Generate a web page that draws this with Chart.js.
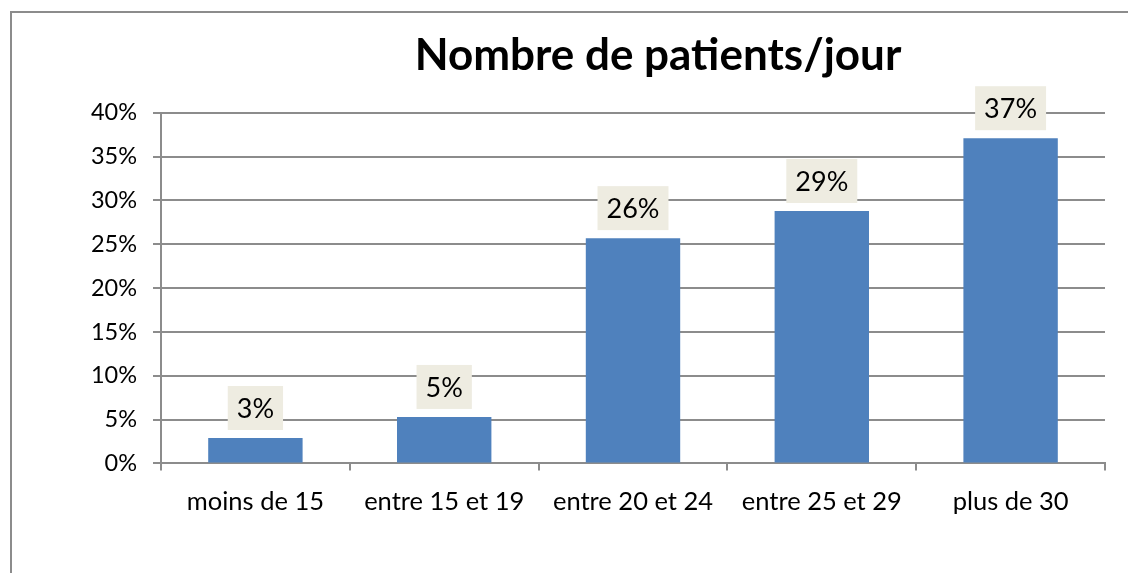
<!DOCTYPE html>
<html>
<head>
<meta charset="utf-8">
<script src="https://cdn.jsdelivr.net/npm/chart.js@4/dist/chart.umd.min.js"></script>
<style>
  body { margin: 0; background: #fff; overflow: hidden; }
  #frame {
    position: absolute; left: 10px; top: 11px;
    width: 1400px; height: 700px;
    border-left: 2px solid #8c8c8c; border-top: 2px solid #8c8c8c;
  }
  #chart { position: absolute; left: -1px; top: -1px; }
</style>
</head>
<body>
<div id="frame"><canvas id="chart" width="1294" height="561"></canvas></div>
<script>
// Chart data
const categories = ["moins de 15", "entre 15 et 19", "entre 20 et 24", "entre 25 et 29", "plus de 30"];
const patientShare = [2.9, 5.3, 25.7, 28.8, 37.1];
const yTicks = [0, 5, 10, 15, 20, 25, 30, 35, 40];

const FONT = "Lato, 'Open Sans', sans-serif";
const GRID = "#8c8c8c";

// Draws the beige value boxes above each bar
const valueBoxes = {
    id: "valueBoxes",
    afterDatasetsDraw(chart) {
        const ctx = chart.ctx;
        const meta = chart.getDatasetMeta(0);
        ctx.save();
        ctx.font = "27px " + FONT;
        ctx.textAlign = "center";
        ctx.textBaseline = "middle";
        meta.data.forEach((bar, i) => {
            const label = Math.round(patientShare[i]) + "%";
            const w = ctx.measureText(label).width + 18;
            const h = 44;
            const bottom = bar.y - 8;
            ctx.fillStyle = "#EEECE1";
            ctx.fillRect(bar.x - w / 2, bottom - h, w, h);
            ctx.fillStyle = "#000";
            ctx.fillText(label, bar.x, bottom - h / 2 + 1);
        });
        ctx.restore();
    }
};

document.addEventListener("DOMContentLoaded", () => {
    const ctx = document.getElementById("chart").getContext("2d");
    new Chart(ctx, {
        type: "bar",
        data: {
            labels: categories,
            datasets: [{
                data: patientShare,
                backgroundColor: "#4F81BD",
                borderWidth: 0,
                categoryPercentage: 1,
                barPercentage: 0.5
            }]
        },
        options: {
            responsive: false,
            devicePixelRatio: 1,
            animation: false,
            layout: { padding: { left: 0, right: 0, top: 0, bottom: 40 } },
            plugins: {
                legend: { display: false },
                tooltip: { enabled: false },
                title: {
                    display: true,
                    text: "Nombre de patients/jour",
                    color: "#000",
                    font: { family: FONT, size: 44, weight: "bold" },
                    padding: { top: 17, bottom: 31 }
                }
            },
            scales: {
                x: {
                    grid: {
                        offset: true,
                        drawOnChartArea: false,
                        color: GRID,
                        lineWidth: 2,
                        tickLength: 7
                    },
                    border: { color: GRID, width: 2 },
                    ticks: {
                        color: "#000",
                        font: { family: FONT, size: 25.5 },
                        padding: 16,
                        maxRotation: 0
                    }
                },
                y: {
                    min: 0,
                    max: 40,
                    afterBuildTicks: (scale) => {
                        scale.ticks = yTicks.map(v => ({ value: v }));
                    },
                    afterFit: (scale) => { scale.width = 150; },
                    grid: { color: GRID, lineWidth: 2, tickLength: 8 },
                    border: { color: GRID, width: 2 },
                    ticks: {
                        color: "#000",
                        font: { family: FONT, size: 23.5 },
                        padding: 16,
                        callback: (v) => v + "%"
                    }
                },
                // empty space on the right, the original chart is wider than the picture
                yRight: {
                    position: "right",
                    afterFit: (scale) => { scale.width = 200; },
                    grid: { display: false },
                    border: { display: false },
                    ticks: { display: false }
                }
            }
        },
        plugins: [valueBoxes]
    });
});
</script>
</body>
</html>
